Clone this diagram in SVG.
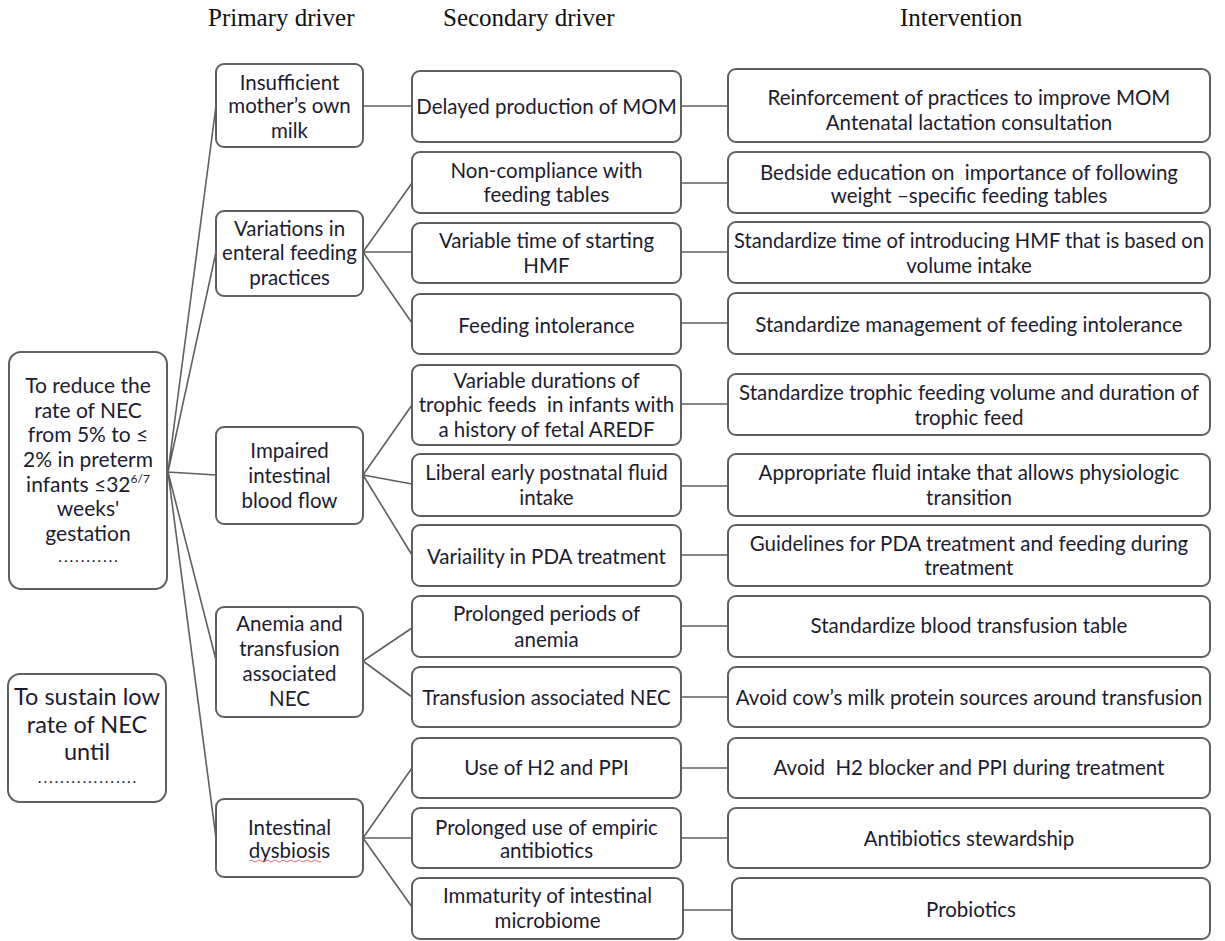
<svg xmlns="http://www.w3.org/2000/svg" width="1225" height="941" viewBox="0 0 1225 941">
<style>
  .bx { fill: #ffffff; stroke: #5f5f5f; stroke-width: 2; }
  .t { font-family: Lato, "Open Sans", "Liberation Sans", sans-serif; font-size: 20.5px; fill: #1c1c30; text-anchor: middle; dominant-baseline: central; }
  .a1 { font-size: 21px; }
  .a2 { font-size: 23.5px; }
  .dots { font-family: Lato, "Open Sans", "Liberation Sans", sans-serif; font-size: 16px; fill: #1c1c30; text-anchor: middle; letter-spacing: 1.8px; }
  .sup { font-size: 12px; }
  .h { font-family: "Liberation Serif", "Times New Roman", serif; font-size: 25px; fill: #111111; }
  .c { fill: none; stroke: #5f5f5f; stroke-width: 1.6; }
</style>
<rect width="1225" height="941" fill="#ffffff"/>

<g id="headers">
  <text class="h" x="208" y="26">Primary driver</text>
  <text class="h" x="443" y="26">Secondary driver</text>
  <text class="h" x="900" y="26">Intervention</text>
</g>

<g id="connectors">
  <path class="c" d="M168,472 L216,106 M168,472 L216,252 M168,472 L216,475 M168,472 L216,660 M168,472 L216,838"/>
  <path class="c" d="M363,106 L412,106"/>
  <path class="c" d="M363,252 L412,183 M363,252 L412,252 M363,252 L412,323"/>
  <path class="c" d="M363,475 L412,405 M363,475 L412,484 M363,475 L412,555"/>
  <path class="c" d="M363,661 L412,628 M363,661 L412,697"/>
  <path class="c" d="M363,838 L412,768 M363,838 L412,838 M363,838 L412,907"/>
  <path class="c" d="M681,106 L728,106 M681,183 L728,183 M681,252 L728,252 M681,323 L728,323 M681,404 L728,404 M681,486 L728,486 M681,555 L728,555 M681,626 L728,626 M681,697 L728,697 M681,768 L728,768 M681,838 L728,838 M683,910 L732,910"/>
</g>

<g id="aim1">
  <rect class="bx" x="9" y="352" width="158" height="237" rx="12"/>
  <text class="t a1" x="88" y="384">To reduce the</text>
  <text class="t a1" x="88" y="409">rate of NEC</text>
  <text class="t a1" x="88" y="433">from 5% to ≤</text>
  <text class="t a1" x="88" y="458">2% in preterm</text>
  <text class="t a1" x="88" y="483">infants ≤32<tspan class="sup" dy="-5">6/7</tspan></text>
  <text class="t a1" x="88" y="507">weeks'</text>
  <text class="t a1" x="88" y="532">gestation</text>
  <text class="dots" x="89" y="562">...........</text>
</g>

<g id="aim2">
  <rect class="bx" x="8" y="674" width="158" height="128" rx="12"/>
  <text class="t a2" x="87" y="696">To sustain low</text>
  <text class="t a2" x="87" y="724">rate of NEC</text>
  <text class="t a2" x="87" y="751">until</text>
  <text class="dots" x="88" y="783">..................</text>
</g>

<g id="p1">
  <rect class="bx" x="216" y="64" width="147" height="83" rx="8"/>
  <text class="t" x="289.5" y="82">Insufficient</text>
  <text class="t" x="289.5" y="105">mother’s own</text>
  <text class="t" x="289.5" y="130">milk</text>
</g>
<g id="p2">
  <rect class="bx" x="216" y="211" width="147" height="85" rx="8"/>
  <text class="t" x="289.5" y="228">Variations in</text>
  <text class="t" x="289.5" y="252">enteral feeding</text>
  <text class="t" x="289.5" y="277">practices</text>
</g>
<g id="p3">
  <rect class="bx" x="216" y="427" width="147" height="97" rx="8"/>
  <text class="t" x="289.5" y="450">Impaired</text>
  <text class="t" x="289.5" y="475">intestinal</text>
  <text class="t" x="289.5" y="500">blood flow</text>
</g>
<g id="p4">
  <rect class="bx" x="216" y="607" width="147" height="110" rx="8"/>
  <text class="t" x="289.5" y="623">Anemia and</text>
  <text class="t" x="289.5" y="648">transfusion</text>
  <text class="t" x="289.5" y="673">associated</text>
  <text class="t" x="289.5" y="698">NEC</text>
</g>
<g id="p5">
  <rect class="bx" x="216" y="799" width="147" height="78" rx="8"/>
  <text class="t" x="289.5" y="827">Intestinal</text>
  <text class="t" x="289.5" y="850">dysbiosis</text>
  <path d="M249,861 q2,-2 4,0 t4,0 t4,0 t4,0 t4,0 t4,0 t4,0 t4,0 t4,0 t4,0 t4,0 t4,0 t4,0 t4,0 t4,0 t4,0 t4,0 t4,0" fill="none" stroke="#e05a5a" stroke-width="0.9"/>
</g>

<g id="s1">
  <rect class="bx" x="412" y="71" width="269" height="71" rx="8"/>
  <text class="t" x="546.5" y="106">Delayed production of MOM</text>
</g>
<g id="s2">
  <rect class="bx" x="412" y="152" width="269" height="61" rx="8"/>
  <text class="t" x="546.5" y="170">Non-compliance with</text>
  <text class="t" x="546.5" y="194">feeding tables</text>
</g>
<g id="s3">
  <rect class="bx" x="412" y="223" width="269" height="60" rx="8"/>
  <text class="t" x="546.5" y="240">Variable time of starting</text>
  <text class="t" x="546.5" y="265">HMF</text>
</g>
<g id="s4">
  <rect class="bx" x="412" y="294" width="269" height="60" rx="8"/>
  <text class="t" x="546.5" y="325">Feeding intolerance</text>
</g>
<g id="s5">
  <rect class="bx" x="412" y="365" width="269" height="80" rx="8"/>
  <text class="t" x="546.5" y="380">Variable durations of</text>
  <text class="t" x="546.5" y="404" xml:space="preserve">trophic feeds  in infants with</text>
  <text class="t" x="546.5" y="429">a history of fetal AREDF</text>
</g>
<g id="s6">
  <rect class="bx" x="412" y="454" width="269" height="62" rx="8"/>
  <text class="t" x="546.5" y="472">Liberal early postnatal fluid</text>
  <text class="t" x="546.5" y="497">intake</text>
</g>
<g id="s7">
  <rect class="bx" x="412" y="525" width="269" height="61" rx="8"/>
  <text class="t" x="546.5" y="556">Variaility in PDA treatment</text>
</g>
<g id="s8">
  <rect class="bx" x="412" y="596" width="269" height="61" rx="8"/>
  <text class="t" x="546.5" y="613">Prolonged periods of</text>
  <text class="t" x="546.5" y="639">anemia</text>
</g>
<g id="s9">
  <rect class="bx" x="412" y="667" width="269" height="60" rx="8"/>
  <text class="t" x="546.5" y="697">Transfusion associated NEC</text>
</g>
<g id="s10">
  <rect class="bx" x="412" y="738" width="269" height="60" rx="8"/>
  <text class="t" x="546.5" y="767">Use of H2 and PPI</text>
</g>
<g id="s11">
  <rect class="bx" x="412" y="808" width="269" height="60" rx="8"/>
  <text class="t" x="546.5" y="827">Prolonged use of empiric</text>
  <text class="t" x="546.5" y="850">antibiotics</text>
</g>
<g id="s12">
  <rect class="bx" x="412" y="878" width="271" height="61" rx="8"/>
  <text class="t" x="547.5" y="895">Immaturity of intestinal</text>
  <text class="t" x="547.5" y="920">microbiome</text>
</g>

<g id="i1">
  <rect class="bx" x="728" y="69" width="482" height="73" rx="8"/>
  <text class="t" x="969" y="97">Reinforcement of practices to improve MOM</text>
  <text class="t" x="969" y="122">Antenatal lactation consultation</text>
</g>
<g id="i2">
  <rect class="bx" x="728" y="152" width="482" height="61" rx="8"/>
  <text class="t" x="969" y="172" xml:space="preserve">Bedside education on  importance of following</text>
  <text class="t" x="969" y="195">weight –specific feeding tables</text>
</g>
<g id="i3">
  <rect class="bx" x="728" y="222" width="482" height="61" rx="8"/>
  <text class="t" x="969" y="240" textLength="470" lengthAdjust="spacingAndGlyphs">Standardize time of introducing HMF that is based on</text>
  <text class="t" x="969" y="265">volume intake</text>
</g>
<g id="i4">
  <rect class="bx" x="728" y="293" width="482" height="61" rx="8"/>
  <text class="t" x="969" y="324">Standardize management of feeding intolerance</text>
</g>
<g id="i5">
  <rect class="bx" x="728" y="374" width="482" height="61" rx="8"/>
  <text class="t" x="969" y="392">Standardize trophic feeding volume and duration of</text>
  <text class="t" x="969" y="417">trophic feed</text>
</g>
<g id="i6">
  <rect class="bx" x="728" y="454" width="482" height="62" rx="8"/>
  <text class="t" x="969" y="472">Appropriate fluid intake that allows physiologic</text>
  <text class="t" x="969" y="497">transition</text>
</g>
<g id="i7">
  <rect class="bx" x="728" y="525" width="482" height="61" rx="8"/>
  <text class="t" x="969" y="543">Guidelines for PDA treatment and feeding during</text>
  <text class="t" x="969" y="567">treatment</text>
</g>
<g id="i8">
  <rect class="bx" x="728" y="596" width="482" height="61" rx="8"/>
  <text class="t" x="969" y="625">Standardize blood transfusion table</text>
</g>
<g id="i9">
  <rect class="bx" x="728" y="667" width="482" height="60" rx="8"/>
  <text class="t" x="969" y="697">Avoid cow’s milk protein sources around transfusion</text>
</g>
<g id="i10">
  <rect class="bx" x="728" y="738" width="482" height="60" rx="8"/>
  <text class="t" x="969" y="767" xml:space="preserve">Avoid  H2 blocker and PPI during treatment</text>
</g>
<g id="i11">
  <rect class="bx" x="728" y="808" width="482" height="60" rx="8"/>
  <text class="t" x="969" y="838">Antibiotics stewardship</text>
</g>
<g id="i12">
  <rect class="bx" x="732" y="878" width="478" height="61" rx="8"/>
  <text class="t" x="971" y="909">Probiotics</text>
</g>
</svg>
